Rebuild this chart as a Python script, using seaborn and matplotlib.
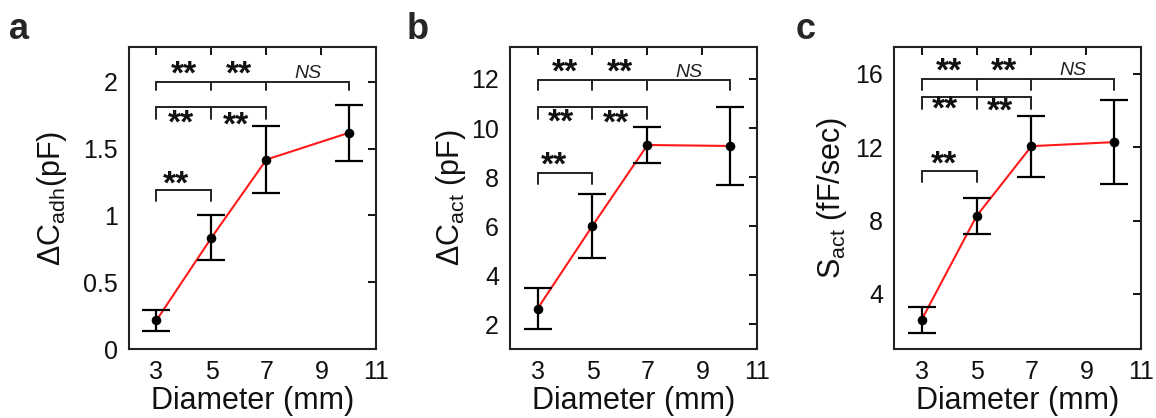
import numpy as np
import pandas as pd
import matplotlib
matplotlib.use("Agg")
import matplotlib.pyplot as plt
import seaborn as sns

sns.set_theme(style="white")
plt.rcParams['font.family'] = ['Liberation Sans', 'DejaVu Sans']
plt.rcParams['mathtext.fontset'] = 'custom'
plt.rcParams['mathtext.rm'] = 'Liberation Sans'
plt.rcParams['mathtext.it'] = 'Liberation Sans:italic'

diameter = [3, 5, 7, 10]

adh_mean = [0.215, 0.833, 1.418, 1.618]
adh_err = [0.08, 0.17, 0.25, 0.21]

act_mean = [2.64, 6.02, 9.31, 9.27]
act_err = [0.83, 1.30, 0.73, 1.57]

sact_mean = [2.58, 8.24, 12.05, 12.27]
sact_err = [0.73, 0.98, 1.67, 2.30]

x_ticks = [3, 5, 7, 9, 11]
yticks_a = [0, 0.5, 1, 1.5, 2]
yticks_b = [2, 4, 6, 8, 10, 12]
yticks_c = [4, 8, 12, 16]

# significance brackets: (x positions, top level, drop level)
brackets_a = [([3, 5, 7, 10], 2.0, 1.94), ([3, 5, 7], 1.81, 1.72), ([3, 5], 1.19, 1.105)]
brackets_b = [([3, 5, 7, 10], 11.97, 11.56), ([3, 5, 7], 10.85, 10.37), ([3, 5], 8.18, 7.71)]
brackets_c = [([3, 5, 7, 10], 15.73, 15.09), ([3, 5, 7], 14.73, 14.1), ([3, 5], 10.69, 10.09)]

# significance labels: (x, y, text)
sig_a = [(4, 2.05, '**'), (6, 2.05, '**'), (8.5, 2.03, 'NS'),
         (3.9, 1.68, '**'), (5.9, 1.67, '**'), (3.7, 1.23, '**')]
sig_b = [(4, 12.25, '**'), (6, 12.25, '**'), (8.5, 12.09, 'NS'),
         (3.85, 10.2, '**'), (5.85, 10.15, '**'), (3.6, 8.45, '**')]
sig_c = [(4, 16.1, '**'), (6, 16.1, '**'), (8.5, 15.91, 'NS'),
         (3.85, 14.0, '**'), (5.85, 13.9, '**'), (3.8, 11.0, '**')]

panels = [
    ('a', adh_mean, adh_err, yticks_a, ['0', '0.5', '1', '1.5', '2'], (0, 2.26),
     r'$\mathregular{\Delta C_{adh}}$(pF)', brackets_a, sig_a, -0.31),
    ('b', act_mean, act_err, yticks_b, [str(v) for v in yticks_b], (1.0, 13.3),
     r'$\mathregular{\Delta C_{act}}$ (pF)', brackets_b, sig_b, -0.24),
    ('c', sact_mean, sact_err, yticks_c, [str(v) for v in yticks_c], (1.0, 17.45),
     r'$\mathregular{S_{act}}$ (fF/sec)', brackets_c, sig_c, -0.25),
]

fig = plt.figure(figsize=(11.56, 4.18), dpi=100)
lefts = [0.1116, 0.4412, 0.7734]
label_x = [0.008, 0.352, 0.688]

for i, (lab, mean, err, yt, ytl, ylim, ylab, brs, sigs, ylx) in enumerate(panels):
    ax = fig.add_axes([lefts[i], 0.165, 0.2140, 0.7225])
    df = pd.DataFrame({'d': diameter, 'v': mean})
    sns.lineplot(data=df, x='d', y='v', ax=ax, color='#ff1a1a', lw=1.5, zorder=2)
    ax.errorbar(diameter, mean, yerr=err, fmt='none', ecolor='black',
                elinewidth=1.6, capsize=10, capthick=1.6, zorder=3)
    sns.scatterplot(data=df, x='d', y='v', ax=ax, color='black', s=48,
                    edgecolor='black', linewidth=0, zorder=4)
    for xs, top, drop in brs:
        ax.plot([xs[0], xs[-1]], [top, top], color='#222222', lw=1.4, zorder=1)
        for xv in xs:
            ax.plot([xv, xv], [top, drop], color='#222222', lw=1.4, zorder=1)
    for xv, yv, txt in sigs:
        if txt == 'NS':
            ax.text(xv, yv, txt, ha='center', va='baseline', fontsize=14,
                    style='italic', color='#222222')
        else:
            ax.text(xv, yv, txt, ha='center', va='center', fontsize=24,
                    color='#111111', fontweight='bold')
    ax.set_xlim(2, 11)
    ax.set_ylim(*ylim)
    ax.set_xticks(x_ticks)
    ax.set_xticklabels([str(v) for v in x_ticks])
    ax.set_yticks(yt)
    ax.set_yticklabels(ytl)
    ax.tick_params(direction='in', length=6, width=1.4, top=True, right=True,
                   labelsize=18, colors='#111111', pad=8)
    for sp in ax.spines.values():
        sp.set_linewidth(1.5)
        sp.set_color('#222222')
    ax.set_xlabel('Diameter (mm)', fontsize=22, labelpad=1, color='#111111')
    ax.set_ylabel(ylab, fontsize=22, color='#111111')
    ax.yaxis.label.set_va('center')
    ax.yaxis.set_label_coords(ylx, 0.5)
    fig.text(label_x[i], 0.93, lab, fontsize=26, fontweight='bold', va='center', ha='left')

fig.savefig('out.png', dpi=100)
